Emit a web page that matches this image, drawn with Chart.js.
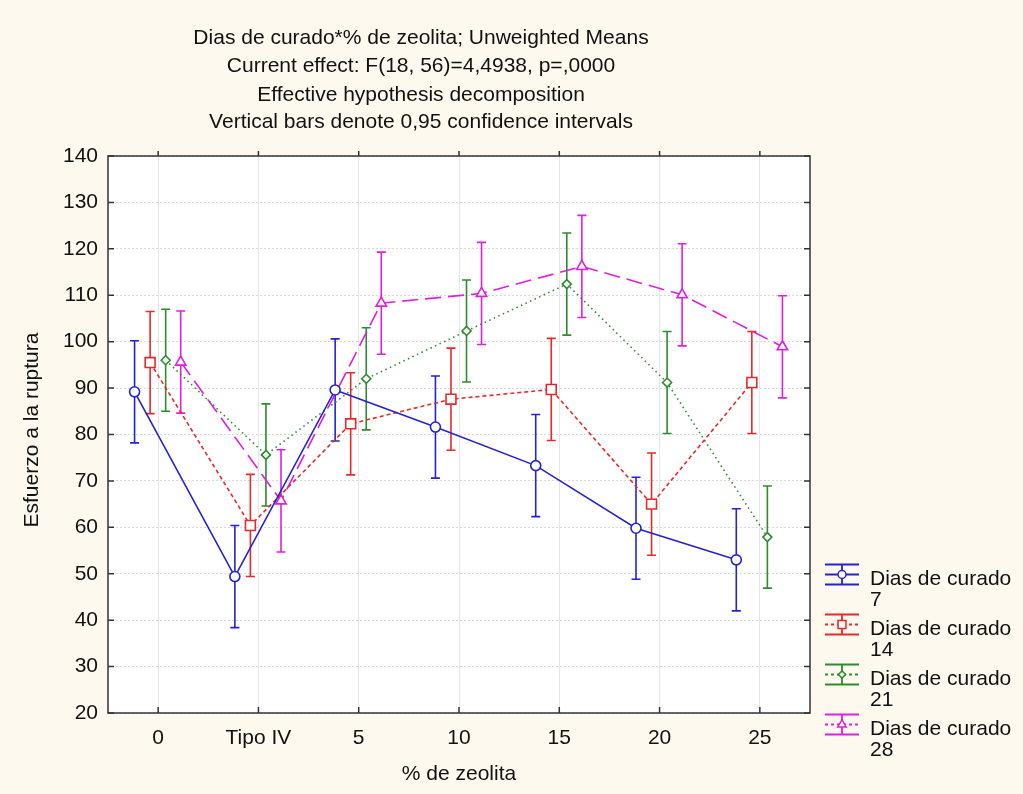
<!DOCTYPE html>
<html>
<head>
<meta charset="utf-8">
<script src="https://cdn.jsdelivr.net/npm/chart.js@4/dist/chart.umd.min.js"></script>
<style>
  html, body { margin: 0; padding: 0; background: #fdf9ee; }
  #wrap { width: 1023px; height: 794px; }
</style>
</head>
<body>
<div id="wrap"><canvas id="chart" width="1023" height="794"></canvas></div>
<script>
// categories on the x axis
const categories = ['0', 'Tipo IV', '5', '10', '15', '20', '25'];
// means per curing time (Dias de curado)
const dias7  = [89.2, 49.4, 89.6, 81.6, 73.3, 59.8, 53.0];
const dias14 = [95.5, 60.4, 82.3, 87.6, 89.7, 65.0, 91.2];
const dias21 = [96.0, 75.6, 92.0, 102.3, 112.4, 91.2, 57.9];
const dias28 = [95.6, 65.7, 108.3, 110.4, 116.2, 110.1, 98.9];
// half width of the 0,95 confidence interval
const ci95 = [11.0, 11.0, 11.0, 11.0];
const seriesNames = ['7', '14', '21', '28'];
const yTicks = [20, 30, 40, 50, 60, 70, 80, 90, 100, 110, 120, 130, 140];
const titleLines = [
  'Dias de curado*% de zeolita; Unweighted Means',
  'Current effect: F(18, 56)=4,4938, p=,0000',
  'Effective hypothesis decomposition',
  'Vertical bars denote 0,95 confidence intervals'
];

const FONT = '"Liberation Sans", Arial, sans-serif';
const offsets = [-0.235, -0.08, 0.075, 0.225];
const styles = [
  {color: '#2323d6', dash: [], point: 'circle', r: 5},
  {color: '#e8282a', dash: [4, 3], point: 'rect', r: 7},
  {color: '#2e8b2e', dash: [1.5, 3.5], point: 'rectRot', r: 4.5},
  {color: '#e01ee0', dash: [16, 7], point: 'triangle', r: 6}
];
const allSeries = [dias7, dias14, dias21, dias28];

const datasets = allSeries.map((vals, k) => ({
  label: 'Dias de curado ' + seriesNames[k],
  data: vals.map((v, i) => ({x: i + offsets[k], y: v})),
  showLine: true,
  borderColor: styles[k].color,
  borderWidth: 1.6,
  borderDash: styles[k].dash,
  pointStyle: styles[k].point,
  pointRadius: styles[k].r,
  pointBorderWidth: 1.6,
  pointBackgroundColor: '#ffffff',
  pointBorderColor: styles[k].color,
  tension: 0
}));

const decor = {
  id: 'decor',
  beforeDraw(chart) {
    const {ctx, chartArea: a} = chart;
    ctx.save();
    ctx.fillStyle = '#fdf9ee';
    ctx.fillRect(0, 0, chart.width, chart.height);
    ctx.fillStyle = '#ffffff';
    ctx.fillRect(a.left, a.top, a.right - a.left, a.bottom - a.top);
    ctx.restore();
  },
  beforeDatasetsDraw(chart) {
    // confidence interval bars, under the markers
    const {ctx, scales: {x, y}} = chart;
    ctx.save();
    ctx.lineWidth = 1.6;
    allSeries.forEach((vals, k) => {
      ctx.strokeStyle = styles[k].color;
      vals.forEach((v, i) => {
        const px = x.getPixelForValue(i + offsets[k]);
        const top = y.getPixelForValue(v + ci95[k]);
        const bot = y.getPixelForValue(v - ci95[k]);
        ctx.beginPath();
        ctx.moveTo(px, top); ctx.lineTo(px, bot);
        ctx.moveTo(px - 4.5, top); ctx.lineTo(px + 4.5, top);
        ctx.moveTo(px - 4.5, bot); ctx.lineTo(px + 4.5, bot);
        ctx.stroke();
      });
    });
    ctx.restore();
  },
  afterDraw(chart) {
    const {ctx, chartArea: a, scales: {x, y}} = chart;
    ctx.save();
    // frame and inward ticks
    ctx.strokeStyle = '#333333';
    ctx.lineWidth = 1.5;
    ctx.strokeRect(a.left, a.top, a.right - a.left, a.bottom - a.top);
    ctx.beginPath();
    yTicks.forEach(t => {
      const py = y.getPixelForValue(t);
      ctx.moveTo(a.left, py); ctx.lineTo(a.left + 6, py);
      ctx.moveTo(a.right, py); ctx.lineTo(a.right - 6, py);
    });
    categories.forEach((c, i) => {
      const px = x.getPixelForValue(i);
      ctx.moveTo(px, a.bottom); ctx.lineTo(px, a.bottom - 6);
      ctx.moveTo(px, a.top); ctx.lineTo(px, a.top - 5);
    });
    ctx.stroke();

    // title
    ctx.fillStyle = '#111111';
    ctx.font = '21px ' + FONT;
    ctx.textAlign = 'center';
    ctx.textBaseline = 'alphabetic';
    const titleBase = [44, 72, 100.5, 128];
    titleLines.forEach((t, i) => ctx.fillText(t, 421, titleBase[i]));

    // axis titles
    ctx.fillText('% de zeolita', 459, 780);
    ctx.save();
    ctx.translate(38, 430);
    ctx.rotate(-Math.PI / 2);
    ctx.fillText('Esfuerzo a la ruptura', 0, 0);
    ctx.restore();

    // legend
    styles.forEach((s, k) => {
      const cy = 574.5 + k * 50;
      const x0 = 825, x1 = 859, cx = 842;
      ctx.strokeStyle = s.color;
      ctx.lineWidth = 1.8;
      ctx.setLineDash([]);
      ctx.beginPath();
      ctx.moveTo(x0, cy - 10); ctx.lineTo(x1, cy - 10);
      ctx.moveTo(x0, cy + 10); ctx.lineTo(x1, cy + 10);
      ctx.moveTo(cx, cy - 10); ctx.lineTo(cx, cy + 10);
      ctx.stroke();
      ctx.setLineDash(s.dash.length ? [3, 3] : []);
      ctx.beginPath();
      ctx.moveTo(x0, cy); ctx.lineTo(x1, cy);
      ctx.stroke();
      ctx.setLineDash([]);
      ctx.lineWidth = 1.5;
      ctx.fillStyle = '#ffffff';
      Chart.helpers.drawPoint(ctx, {pointStyle: s.point, radius: s.r * 0.8, rotation: 0, borderWidth: 1.5}, cx, cy);
      ctx.fillStyle = '#111111';
      ctx.font = '21px ' + FONT;
      ctx.textAlign = 'left';
      ctx.textBaseline = 'alphabetic';
      ctx.fillText('Dias de curado', 870, cy + 10);
      ctx.fillText(seriesNames[k], 870, cy + 31.5);
    });
    ctx.restore();
  }
};

new Chart(document.getElementById('chart'), {
  type: 'scatter',
  data: {datasets},
  options: {
    responsive: false,
    animation: false,
    layout: {padding: {top: 156, right: 213, left: 0, bottom: 0}},
    plugins: {legend: {display: false}, tooltip: {enabled: false}, title: {display: false}},
    scales: {
      x: {
        type: 'linear',
        min: -0.5,
        max: 6.5,
        afterFit: s => { s.height = 81; },
        afterBuildTicks: s => { s.ticks = categories.map((c, i) => ({value: i})); },
        ticks: {
          callback: v => categories[v] ?? '',
          font: {family: FONT, size: 21},
          color: '#111111',
          padding: 13,
          maxRotation: 0,
          autoSkip: false
        },
        grid: {color: '#e6e6e6', lineWidth: 1, drawTicks: false},
        border: {display: false}
      },
      y: {
        min: 20,
        max: 140,
        afterFit: s => { s.width = 108; },
        afterBuildTicks: s => { s.ticks = yTicks.map(v => ({value: v})); },
        ticks: {
          font: {family: FONT, size: 21},
          color: '#111111',
          padding: 10
        },
        grid: {color: '#d9d9d9', lineWidth: 1, drawTicks: false},
        border: {display: false, dash: [2, 2]}
      }
    }
  },
  plugins: [decor]
});
</script>
</body>
</html>
